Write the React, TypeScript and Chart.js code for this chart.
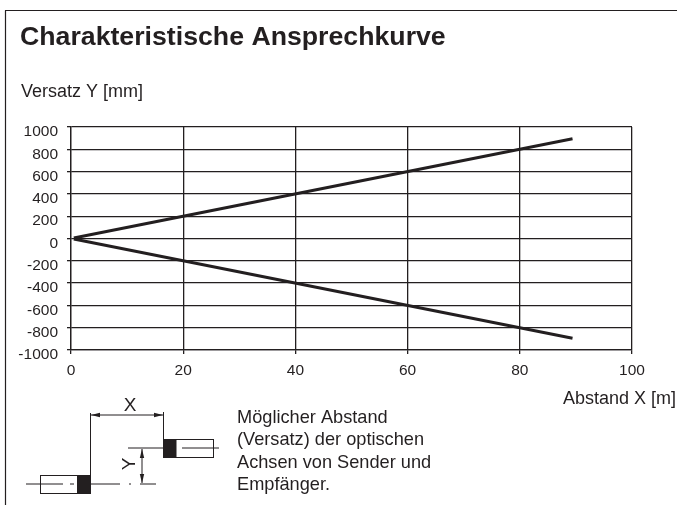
import React, { useEffect, useRef } from "react";
import { Chart, registerables } from "chart.js";

Chart.register(...registerables);

const FONT = '"Liberation Sans", Arial, sans-serif';
const INK = "#231f20";

const xTicks = [0, 20, 40, 60, 80, 100];
const yTicks = [1000, 800, 600, 400, 200, 0, -200, -400, -600, -800, -1000];
const upperX = [0.5, 89.4];
const upperY = [5, 894];
const lowerX = [0.5, 89.4];
const lowerY = [-5, -894];
const noteLines = ["Möglicher Abstand", "(Versatz) der optischen", "Achsen von Sender und", "Empfänger."];

function line(c: CanvasRenderingContext2D, x1: number, y1: number, x2: number, y2: number, w = 1) {
  c.lineWidth = w;
  c.beginPath();
  c.moveTo(x1, y1);
  c.lineTo(x2, y2);
  c.stroke();
}

function arrow(c: CanvasRenderingContext2D, x: number, y: number, dx: number, dy: number) {
  const l = 9, h = 2.2;
  c.beginPath();
  c.moveTo(x, y);
  c.lineTo(x + dx * l - dy * h, y + dy * l - dx * h);
  c.lineTo(x + dx * l + dy * h, y + dy * l + dx * h);
  c.closePath();
  c.fill();
}

const decor = {
  id: "decor",
  afterDraw(chart: any) {
    const c: CanvasRenderingContext2D = chart.ctx;
    c.save();
    c.strokeStyle = INK;
    c.fillStyle = INK;
    // frame
    line(c, 5.5, 505, 5.5, 10.5, 1.2);
    line(c, 5, 10.5, 677, 10.5, 1.2);
    // headings
    c.textBaseline = "alphabetic";
    c.textAlign = "left";
    c.font = `bold 26.7px ${FONT}`;
    c.fillText("Charakteristische Ansprechkurve", 20, 45);
    c.font = `18px ${FONT}`;
    c.fillText("Versatz Y [mm]", 21, 97);
    c.fillText("Abstand X [m]", 563, 404);
    c.font = `18.2px ${FONT}`;
    noteLines.forEach((t, i) => c.fillText(t, 237, 423 + i * 22.3));
    // sensor diagram
    c.lineWidth = 1;
    c.strokeRect(40.5, 475.5, 50, 18);
    c.fillRect(77, 475, 13.5, 18.5);
    c.strokeRect(163.5, 439.5, 50, 18);
    c.fillRect(163, 439, 13.5, 18.5);
    line(c, 26, 484, 63, 484);
    line(c, 70, 484, 74, 484);
    line(c, 90, 484, 120, 484);
    line(c, 129, 484, 131, 484);
    line(c, 140, 484, 156, 484);
    line(c, 128, 448, 163, 448);
    line(c, 182, 448, 219, 448);
    line(c, 90.5, 413, 90.5, 475);
    line(c, 163.5, 412, 163.5, 439);
    line(c, 91, 415, 163, 415);
    arrow(c, 91, 415, 1, 0);
    arrow(c, 163, 415, -1, 0);
    line(c, 142, 449, 142, 483);
    arrow(c, 142, 449, 0, 1);
    arrow(c, 142, 483, 0, -1);
    c.font = `19px ${FONT}`;
    c.textAlign = "center";
    c.fillText("X", 130, 411);
    c.save();
    c.translate(135, 464);
    c.rotate(-Math.PI / 2);
    c.fillText("Y", 0, 0);
    c.restore();
    c.restore();
  },
};

export default function App() {
  const ref = useRef<HTMLCanvasElement>(null);
  useEffect(() => {
    const gridOpts = { color: INK, lineWidth: 1.3, tickLength: 4, tickColor: INK };
    const chart = new Chart(ref.current!, {
      type: "scatter",
      data: {
        datasets: [
          { data: upperX.map((x, i) => ({ x, y: upperY[i] })), showLine: true, borderColor: INK, borderWidth: 3, pointRadius: 0 },
          { data: lowerX.map((x, i) => ({ x, y: lowerY[i] })), showLine: true, borderColor: INK, borderWidth: 3, pointRadius: 0 },
        ],
      },
      options: {
        animation: false,
        responsive: false,
        plugins: { legend: { display: false }, tooltip: { enabled: false } },
        scales: {
          x: {
            type: "linear",
            min: 0,
            max: 100,
            afterFit(s: any) { s.height = 505 - 350; },
            afterBuildTicks(s: any) { s.ticks = xTicks.map((value) => ({ value })); },
            grid: gridOpts,
            border: { color: INK, width: 1.3 },
            ticks: { color: INK, font: { family: FONT, size: 15.5 }, maxRotation: 0, padding: 7, autoSkip: false, callback: (v: any) => String(v) },
          },
          y: {
            type: "linear",
            min: -1000,
            max: 1000,
            afterFit(s: any) { s.width = 71; },
            afterBuildTicks(s: any) { s.ticks = yTicks.map((value) => ({ value })); },
            grid: gridOpts,
            border: { color: INK, width: 1.3 },
            ticks: { color: INK, font: { family: FONT, size: 15.5 }, padding: 9, labelOffset: 5, autoSkip: false, callback: (v: any) => String(v) },
          },
        },
      },
      plugins: [
        decor,
        {
          id: "box",
          beforeLayout(chart: any) {
            chart.options.layout.padding = { left: 0, right: 677 - 632, top: 127, bottom: 0 };
          },
        },
      ],
    } as any);
    return () => chart.destroy();
  }, []);
  return (
    <canvas
      ref={ref}
      width={677}
      height={505}
      style={{ position: "fixed", left: 0, top: 0, width: 677, height: 505, display: "block", background: "#fff" }}
    />
  );
}
